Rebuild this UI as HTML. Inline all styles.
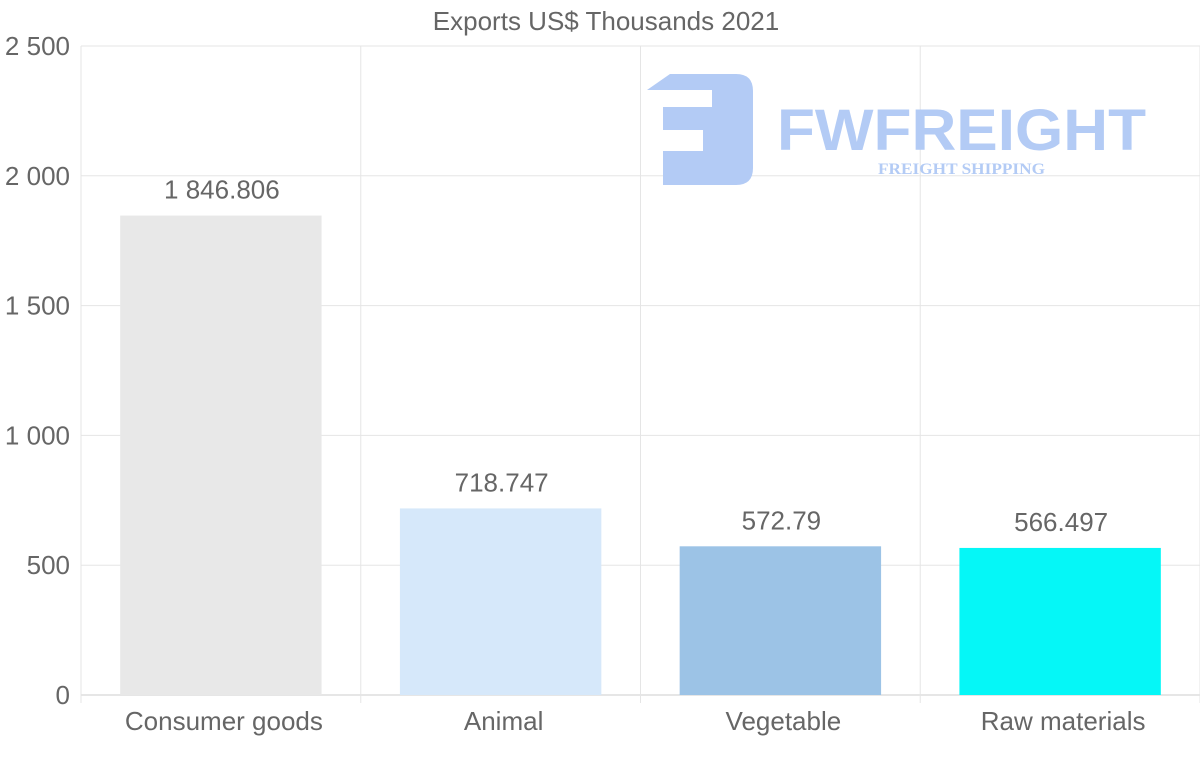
<!DOCTYPE html>
<html><head><meta charset="utf-8"><style>
html,body{margin:0;padding:0;background:#fff;}
svg{display:block;font-family:"Liberation Sans",sans-serif;}
</style></head><body>
<svg id="chart" width="1200" height="763">
<text x="606" y="30" text-anchor="middle" font-size="26" fill="#666">Exports US$ Thousands 2021</text>
<g id="grid"></g>
<g id="logo">
<path d="M647 90 L670 74 H736 Q753 74 753 91 V168 Q753 185 736 185 H663 V151 H703 V130 H663 V107 H712 V90 Z" fill="#b3cbf5"/>
<text x="777" y="150" font-size="58" font-weight="bold" fill="#b3cbf5" textLength="369" lengthAdjust="spacingAndGlyphs">FWFREIGHT</text>
<text x="878" y="174" font-size="16" font-weight="bold" fill="#b3cbf5" font-family="Liberation Serif,serif" textLength="167" lengthAdjust="spacingAndGlyphs">FREIGHT SHIPPING</text>
</g>
<g id="bars"></g>
<g id="axes"></g>
</svg>
<script>
const categories = ["Consumer goods","Animal","Vegetable","Raw materials"];
const values = [1846.806, 718.747, 572.79, 566.497];
const valueLabels = ["1 846.806","718.747","572.79","566.497"];
const barColors = ["#e8e8e8","#d6e8fa","#9cc3e6","#05f7f7"];
const yTicks = [0,500,1000,1500,2000,2500];
const yTickLabels = ["0","500","1 000","1 500","2 000","2 500"];
const NS="http://www.w3.org/2000/svg";
const L=81,R=1200,T=46,B=695,yMax=2500;
const y=v=>B-(v/yMax)*(B-T);
const bw=(R-L)/categories.length;
const x=i=>L+i*bw;
function mk(tag,attrs,parent,txt){const e=document.createElementNS(NS,tag);for(const k in attrs)e.setAttribute(k,attrs[k]);if(txt!==undefined)e.textContent=txt;parent.appendChild(e);return e;}
const grid=document.getElementById('grid'),bars=document.getElementById('bars'),axes=document.getElementById('axes');
yTicks.forEach((t,i)=>{
  const g=mk('line',{x1:L,x2:R,y1:y(t),y2:y(t),stroke:t===0?'#ccc':'#e5e5e5','stroke-width':1},grid);
  
  
  const lb=mk('text',{x:70,y:y(t)+9,'text-anchor':'end','font-size':26,fill:'#666'},axes,yTickLabels[i]);
  
  
});
for(let i=0;i<=categories.length;i++){
  const g=mk('line',{x1:x(i),x2:x(i),y1:T,y2:B+8,stroke:'#e5e5e5','stroke-width':1},grid);
  
  
}
categories.forEach((c,i)=>{
  const w=bw*0.72,bx=x(i)+(bw-w)/2;
  const r=mk('rect',{x:bx,y:y(values[i]),width:w,height:B-y(values[i]),fill:barColors[i]},bars);
  
  
  const vl=mk('text',{x:x(i)+bw/2+1,y:y(values[i])-17,'text-anchor':'middle','font-size':26,fill:'#666'},bars,valueLabels[i]);
  
  
  const cl=mk('text',{x:x(i)+bw/2+3,y:730,'text-anchor':'middle','font-size':26,fill:'#666'},axes,c);
  
  
});
</script>
</body></html>
